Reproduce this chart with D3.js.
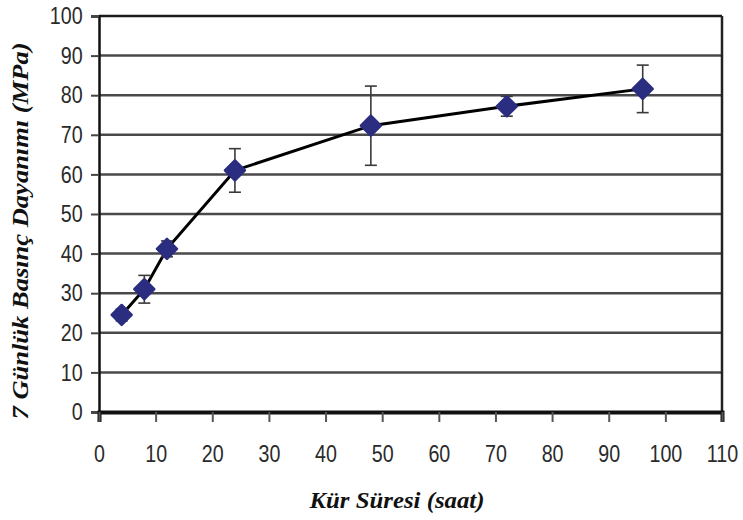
<!DOCTYPE html>
<html>
<head>
<meta charset="utf-8">
<script src="https://cdn.jsdelivr.net/npm/d3@7"></script>
<style>
  body { margin: 0; background: #fff; }
  .tick text { font-family: "Liberation Sans", Arial, sans-serif; }
</style>
</head>
<body>
<div id="chart"></div>
<script>
// data
let hours = [4, 8, 12, 24, 48, 72, 96];
let strength = [24.5, 31, 41.2, 61, 72.3, 77.2, 81.6];
let errs = [1.5, 3.5, 2, 5.5, 10, 2.5, 6];
let xTicks = [0, 10, 20, 30, 40, 50, 60, 70, 80, 90, 100, 110];
let yTicks = [0, 10, 20, 30, 40, 50, 60, 70, 80, 90, 100];

let points = hours.map((h, i) => ({ x: h, y: strength[i], e: errs[i] }));

var margin = {top: 16, right: 21, bottom: 108, left: 99},
    width = 743 - margin.left - margin.right,
    height = 520 - margin.top - margin.bottom;

var svg = d3.select("#chart")
  .append("svg")
    .attr("width", 743)
    .attr("height", 520)
  .append("g")
    .attr("transform", "translate(" + margin.left + "," + margin.top + ")");

var x = d3.scaleLinear().domain([0, 110]).range([0, width]);
var y = d3.scaleLinear().domain([0, 100]).range([height, 0]);

// horizontal grid lines
svg.append("g")
  .selectAll("line")
  .data(yTicks.filter(t => t > 0))
  .enter()
  .append("line")
  .attr("x1", 0)
  .attr("x2", width)
  .attr("y1", d => y(d))
  .attr("y2", d => y(d))
  .attr("stroke", d => d == 100 ? "#1a1a1a" : "#4a4a4a")
  .attr("stroke-width", 2.5);

// right border
svg.append("line")
  .attr("x1", width).attr("x2", width)
  .attr("y1", 0).attr("y2", height)
  .attr("stroke", "#222")
  .attr("stroke-width", 2.5);

// y axis
var yAxis = svg.append("g")
  .call(d3.axisLeft(y).tickValues(yTicks).tickSize(8).tickPadding(8));
yAxis.select(".domain").attr("stroke", "#111").attr("stroke-width", 2.5);
yAxis.selectAll(".tick line").attr("stroke", "#444").attr("stroke-width", 2);
yAxis.selectAll(".tick text")
  .attr("font-size", 24)
  .attr("fill", "#2a2a2a")
  .attr("x", -20)
  .attr("transform", "scale(0.82,1)");

// x axis
var xAxis = svg.append("g")
  .attr("transform", "translate(0," + height + ")")
  .call(d3.axisBottom(x).tickValues(xTicks).tickSize(10).tickPadding(23));
xAxis.select(".domain").attr("stroke", "#111").attr("stroke-width", 4);
xAxis.selectAll(".tick line").attr("stroke", "#555").attr("stroke-width", 2);
xAxis.selectAll(".tick text")
  .attr("font-size", 24)
  .attr("fill", "#2a2a2a")
  .attr("transform", "scale(0.82,1)");

// connecting line
svg.append("path")
  .datum(points)
  .attr("fill", "none")
  .attr("stroke", "#000")
  .attr("stroke-width", 3)
  .attr("d", d3.line()
    .x(d => x(d.x))
    .y(d => y(d.y)));

// error bars
var eb = svg.append("g")
  .selectAll("g")
  .data(points)
  .enter()
  .append("g")
  .attr("stroke", "#3a3a3a")
  .attr("stroke-width", 1.6);
eb.append("line")
  .attr("x1", d => x(d.x)).attr("x2", d => x(d.x))
  .attr("y1", d => y(d.y + d.e)).attr("y2", d => y(d.y - d.e));
eb.append("line")
  .attr("x1", d => x(d.x) - 6).attr("x2", d => x(d.x) + 6)
  .attr("y1", d => y(d.y + d.e)).attr("y2", d => y(d.y + d.e));
eb.append("line")
  .attr("x1", d => x(d.x) - 6).attr("x2", d => x(d.x) + 6)
  .attr("y1", d => y(d.y - d.e)).attr("y2", d => y(d.y - d.e));

// diamond markers
svg.append("g")
  .selectAll("path")
  .data(points)
  .enter()
  .append("path")
  .attr("d", d3.symbol().type(d3.symbolSquare).size(200))
  .attr("transform", d => "translate(" + x(d.x) + "," + y(d.y) + ") rotate(45)")
  .attr("fill", "#2b2d80")
  .attr("stroke", "#2b2d80")
  .attr("stroke-width", 2.5)
  .attr("stroke-linejoin", "round");

// axis titles
svg.append("text")
  .attr("x", 298)
  .attr("y", height + 96)
  .attr("text-anchor", "middle")
  .attr("font-family", "Liberation Serif, Times New Roman, serif")
  .attr("font-style", "italic")
  .attr("font-weight", "bold")
  .attr("font-size", 23)
  .attr("fill", "#111")
  .attr("textLength", 175)
  .attr("lengthAdjust", "spacingAndGlyphs")
  .text("Kür Süresi (saat)");

svg.append("text")
  .attr("transform", "translate(" + (-71) + "," + (y(50) + 17) + ") rotate(-90)")
  .attr("text-anchor", "middle")
  .attr("font-family", "Liberation Serif, Times New Roman, serif")
  .attr("font-style", "italic")
  .attr("font-weight", "bold")
  .attr("font-size", 23)
  .attr("fill", "#111")
  .attr("textLength", 377)
  .attr("lengthAdjust", "spacingAndGlyphs")
  .text("7 Günlük Basınç Dayanımı (MPa)");
</script>
</body>
</html>
